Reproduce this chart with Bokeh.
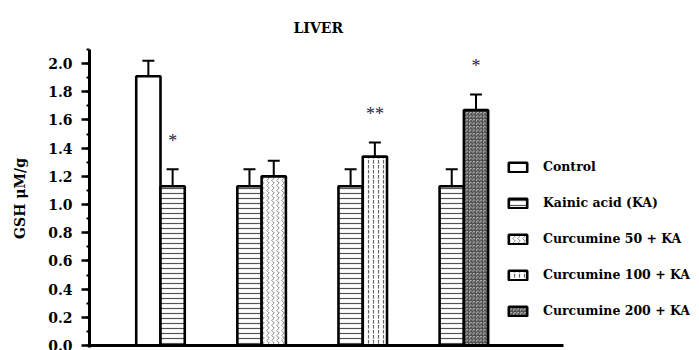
from bokeh.plotting import figure
from bokeh.models import (ColumnDataSource, Whisker, TeeHead, Legend, LegendItem,
                          SingleIntervalTicker, NumeralTickFormatter, Range1d)
from bokeh.core.properties import value
from bokeh.embed import file_html
from bokeh.resources import INLINE

# ---------------- data ----------------
groups = [1, 2, 3, 4]
left_names = ["Control", "Kainic acid (KA)", "Kainic acid (KA)", "Kainic acid (KA)"]
left_means = [1.91, 1.13, 1.13, 1.13]
left_se = [0.11, 0.12, 0.12, 0.12]
right_names = ["Kainic acid (KA)", "Curcumine 50 + KA", "Curcumine 100 + KA", "Curcumine 200 + KA"]
right_means = [1.13, 1.20, 1.34, 1.67]
right_se = [0.12, 0.11, 0.10, 0.11]
stars = ["*", "", "**", "*"]
series = ["Control", "Kainic acid (KA)", "Curcumine 50 + KA", "Curcumine 100 + KA", "Curcumine 200 + KA"]
title_text = "LIVER"
y_label = "GSH \u03bcM/g"

# ---------------- styles ----------------
styles = {
    "Control": dict(hatch_pattern=None),
    "Kainic acid (KA)": dict(hatch_pattern="-", hatch_scale=5, hatch_color="#555555", hatch_weight=1.2),
    "Curcumine 50 + KA": dict(hatch_pattern=">", hatch_scale=5, hatch_color="#888888", hatch_weight=1),
    "Curcumine 100 + KA": dict(hatch_pattern=":", hatch_scale=5, hatch_color="#666666", hatch_weight=1.2),
    "Curcumine 200 + KA": dict(hatch_pattern="*", hatch_scale=3.5, hatch_color="#444444", hatch_weight=1),
}
bar_w = 0.24
off = 0.12
serif = "DejaVu Serif"
x_start, x_end = 0.298, 6.33        # frame spans to the right edge (legend lives inside)
axis_end = 4.985                    # where the drawn x-axis line stops

p = figure(frame_width=610, frame_height=298, output_backend="svg", toolbar_location=None,
           x_range=Range1d(x_start, x_end), y_range=Range1d(-0.0142, 2.1),
           min_border_left=89, min_border_right=0, min_border_top=49, min_border_bottom=3)
p.outline_line_color = None
p.xgrid.visible = False
p.ygrid.visible = False
p.background_fill_color = "white"
p.border_fill_color = "white"

# collect bars per series
per = {n: dict(x=[], top=[]) for n in series}
wx, wl, wu = [], [], []
for g, ln, lm, ls, rn, rm, rs in zip(groups, left_names, left_means, left_se, right_names, right_means, right_se):
    per[ln]["x"].append(g - off); per[ln]["top"].append(lm)
    per[rn]["x"].append(g + off); per[rn]["top"].append(rm)
    wx += [g - off, g + off]; wl += [lm, rm]; wu += [lm + ls, rm + rs]

items = []
for n in series:
    st = styles[n]
    kw = dict(fill_color="white", line_color="black", line_width=2.6)
    if st["hatch_pattern"]:
        kw.update(st)
    r = p.vbar(x="x", top="top", width=bar_w, bottom=0, source=ColumnDataSource(per[n]), **kw)
    items.append(LegendItem(label=n, renderers=[r]))

wsrc = ColumnDataSource(dict(x=wx, lower=wl, upper=wu))
wh = Whisker(base="x", lower="lower", upper="upper", source=wsrc, dimension="height",
             line_color="black", line_width=2,
             upper_head=TeeHead(size=12, line_width=2, line_color="black"), lower_head=None)
p.add_layout(wh)

# x-axis baseline
p.segment(x0=[x_start], y0=[0], x1=[axis_end], y1=[0], line_color="black", line_width=3)

# significance stars over right bars
sx, sy, st_ = [], [], []
for g, rm, rs, s in zip(groups, right_means, right_se, stars):
    if s:
        sx.append(g + off); sy.append(rm + rs + 0.2); st_.append(s)
p.text(x=sx, y=sy, text=st_, text_font=value("Liberation Serif"), text_font_size="18px",
       text_align="center", text_baseline="middle", text_color="#1f1f3f")

# axes
p.xaxis.visible = False
p.yaxis.ticker = SingleIntervalTicker(interval=0.2, num_minor_ticks=2)
p.yaxis.formatter = NumeralTickFormatter(format="0.0")
p.yaxis.axis_line_width = 3
p.yaxis.major_tick_line_width = 2.5
p.yaxis.major_tick_out = 8
p.yaxis.major_tick_in = 0
p.yaxis.minor_tick_line_width = 2
p.yaxis.minor_tick_out = 3
p.yaxis.minor_tick_in = 0
p.yaxis.major_label_text_font = serif
p.yaxis.major_label_text_font_style = "bold"
p.yaxis.major_label_text_font_size = "14px"
p.yaxis.major_label_text_color = "black"
p.yaxis.major_label_standoff = 9
p.yaxis.axis_label = y_label
p.yaxis.axis_label_text_font = serif
p.yaxis.axis_label_text_font_style = "bold"
p.yaxis.axis_label_text_font_size = "14px"
p.yaxis.axis_label_text_color = "black"
p.yaxis.axis_label_standoff = 17

p.title.text = title_text
p.title.align = "left"
p.title.text_font = serif
p.title.text_font_style = "bold"
p.title.text_font_size = "14px"
p.title.text_color = "black"
p.title.standoff = 28
p.title.offset = 204

legend = Legend(items=items, location=(417, 29), padding=0, margin=0, spacing=21,
                glyph_height=12, glyph_width=23, label_height=12, label_standoff=14,
                border_line_alpha=0, background_fill_alpha=0,
                label_text_font=serif, label_text_font_style="bold",
                label_text_font_size="12.5px", label_text_color="black")
p.add_layout(legend, "center")

open("out.html", "w").write(file_html(p, INLINE))
